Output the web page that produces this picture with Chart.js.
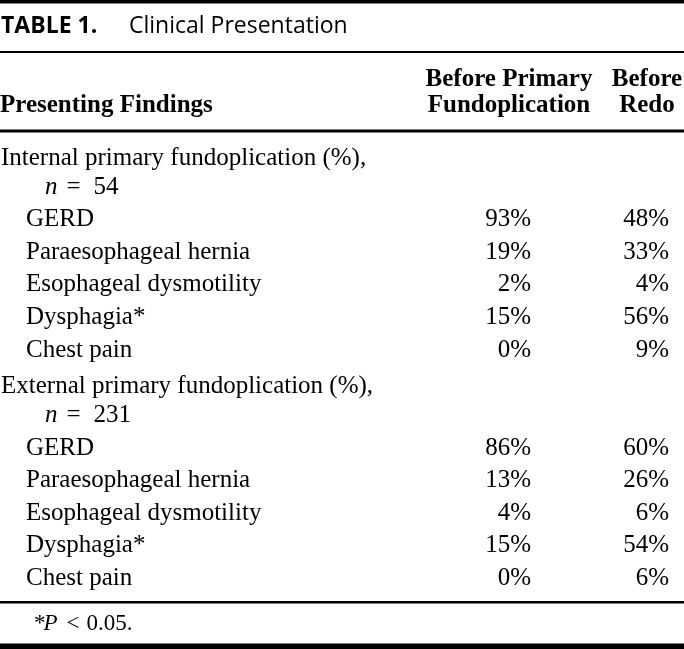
<!DOCTYPE html>
<html>
<head>
<meta charset="utf-8">
<title>Table 1. Clinical Presentation</title>
<script src="https://cdn.jsdelivr.net/npm/chart.js@4.4.1/dist/chart.umd.min.js"></script>
<style>
  html, body { margin:0; padding:0; background:#fff; }
  #wrap { width:684px; height:649px; position:relative; }
</style>
</head>
<body>
<div id="wrap"><canvas id="table"></canvas></div>
<script>
// table content
const tableTitle = ['TABLE 1.', 'Clinical Presentation'];
const stubHead = 'Presenting Findings';
const columnHeads = [['Before Primary', 'Fundoplication'], ['Before', 'Redo']];
const groups = ['Internal primary fundoplication (%),', 'External primary fundoplication (%),'];
const groupSizes = [54, 231];
const findings = ['GERD', 'Paraesophageal hernia', 'Esophageal dysmotility', 'Dysphagia*', 'Chest pain'];
const internalPrimary = [93, 19, 2, 15, 0];
const internalRedo = [48, 33, 4, 56, 9];
const externalPrimary = [86, 13, 4, 15, 0];
const externalRedo = [60, 26, 6, 54, 6];
const footnote = ['*', 'P', '<', '0.05.'];

const serif = '"Liberation Serif", "Times New Roman", serif';
const sans = '"Open Sans", "Noto Sans", sans-serif';

// build rows: group line, n line, then findings
const rows = [];
const primaryPts = [], redoPts = [];
const byGroup = [[internalPrimary, internalRedo], [externalPrimary, externalRedo]];
groups.forEach((g, gi) => {
  rows.push({kind:'group', text:g});
  rows.push({kind:'n', n:groupSizes[gi]});
  findings.forEach((f, fi) => {
    const r = rows.length;
    rows.push({kind:'item', text:f});
    primaryPts.push({x:0, y:r, v:byGroup[gi][0][fi]});
    redoPts.push({x:1, y:r, v:byGroup[gi][1][fi]});
  });
});

// draws the rules and all text through the chart scales
const tablePlugin = {
  id:'tableText',
  beforeDraw(chart){
    const c = chart.ctx;
    c.save(); c.fillStyle = '#fff'; c.fillRect(0, 0, chart.width, chart.height); c.restore();
  },
  afterDatasetsDraw(chart){
    const c = chart.ctx, W = chart.width;
    const xs = chart.scales.x, ys = chart.scales.y;
    c.save();
    c.fillStyle = '#000';
    c.textBaseline = 'alphabetic';

    // rules
    c.fillRect(0, 0, W, 3.5);
    c.fillRect(0, 51, W, 2);
    c.fillRect(0, 129.5, W, 3);
    c.fillRect(0, 601, W, 2.5);
    c.fillRect(0, 643.5, W, 5.5);

    // title
    c.textAlign = 'left';
    c.font = `bold 23px ${sans}`;
    c.fillText(tableTitle[0], 1, 33);
    c.font = `23px ${sans}`;
    c.fillText(tableTitle[1], 129, 33);

    // header
    c.font = `bold 25px ${serif}`;
    c.fillText(stubHead, 0, 112);
    c.textAlign = 'center';
    columnHeads.forEach((h, i) => {
      const cx = xs.getPixelForValue(i);
      c.fillText(h[0], cx, 86);
      c.fillText(h[1], cx, 112);
    });

    // stub column
    c.textAlign = 'left';
    rows.forEach((r, i) => {
      const y = ys.getPixelForValue(i);
      if(r.kind === 'group'){
        c.font = `25px ${serif}`;
        c.fillText(r.text, 1, y + 4);
      } else if(r.kind === 'n'){
        c.font = `italic 25px ${serif}`;
        c.fillText('n', 45, y);
        let x = 45 + c.measureText('n').width + 9;
        c.font = `25px ${serif}`;
        c.fillText('=', x, y);
        x += c.measureText('=').width + 13;
        c.fillText(String(r.n), x, y);
      } else {
        c.font = `25px ${serif}`;
        c.fillText(r.text, 26, y);
      }
    });

    // cell values, right aligned under each head
    c.textAlign = 'right';
    c.font = `25px ${serif}`;
    chart.data.datasets.forEach((ds, di) => {
      const meta = chart.getDatasetMeta(di);
      meta.data.forEach((pt, j) => {
        c.fillText(ds.data[j].v + '%', pt.x + 22, pt.y);
      });
    });

    // footnote
    c.textAlign = 'left';
    c.font = `23px ${serif}`;
    let fx = 34;
    const fy = 630;
    c.fillText(footnote[0], fx, fy);
    fx += c.measureText(footnote[0]).width - 2;
    c.font = `italic 23px ${serif}`;
    c.fillText(footnote[1], fx, fy);
    fx += c.measureText(footnote[1]).width + 9;
    c.font = `23px ${serif}`;
    c.fillText(footnote[2], fx, fy);
    fx += c.measureText(footnote[2]).width + 7;
    c.fillText(footnote[3], fx, fy);
    c.restore();
  }
};

const table = new Chart(document.getElementById('table').getContext('2d'), {
  type:'scatter',
  data:{ datasets:[
    { label:columnHeads[0].join(' '), data:primaryPts, pointRadius:0, pointHoverRadius:0, showLine:false },
    { label:columnHeads[1].join(' '), data:redoPts, pointRadius:0, pointHoverRadius:0, showLine:false }
  ]},
  options:{
    responsive:true, maintainAspectRatio:false, animation:false,
    layout:{ padding:{ left:509, right:37, top:161, bottom:64 } },
    scales:{
      x:{ type:'linear', min:0, max:columnHeads.length - 1, display:false },
      y:{ type:'linear', min:0, max:rows.length - 1, reverse:true, display:false }
    },
    plugins:{ legend:{display:false}, tooltip:{enabled:false} },
    events:[]
  },
  plugins:[tablePlugin]
});
</script>
</body>
</html>
